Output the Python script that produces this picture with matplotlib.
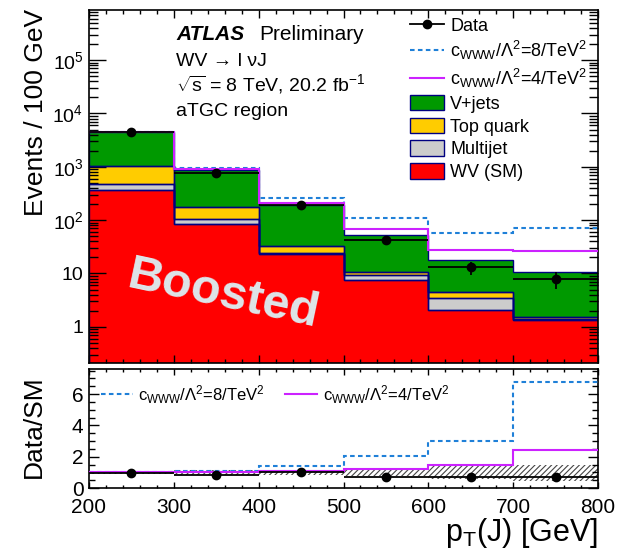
import matplotlib
matplotlib.use("Agg")
import matplotlib.pyplot as plt
import numpy as np
from matplotlib.lines import Line2D
from matplotlib.patches import Patch
from matplotlib.ticker import MultipleLocator, LogLocator, FuncFormatter, NullFormatter

plt.rcParams['font.family'] = ['Liberation Sans', 'DejaVu Sans']
plt.rcParams['mathtext.fontset'] = 'custom'
plt.rcParams['mathtext.rm'] = 'Liberation Sans'
plt.rcParams['mathtext.it'] = 'Liberation Sans:italic'
plt.rcParams['mathtext.bf'] = 'Liberation Sans:bold'
plt.rcParams['hatch.linewidth'] = 0.8

# binning in pT(J)
edges = [200, 300, 400, 500, 600, 700, 800]
centers = [250, 350, 450, 550, 650, 750]

# stacked backgrounds (per bin, not cumulative)
wv_sm = [370, 84, 23.5, 7.5, 2.1, 1.34]
multijet = [110, 20, 0.5, 1.8, 1.4, 0.04]
top_quark = [550, 69, 9, 1.4, 1.0, 0.16]
v_jets = [3500, 694, 162, 41.8, 13.3, 8.96]

# aTGC predictions (total)
atgc_8 = [4550, 958, 262, 109, 56.5, 72]
atgc_4 = [4530, 893, 207, 67, 27.7, 26.3]

data = [4420, 752, 191, 42.3, 13, 7.9]
data_err = [66, 27, 14, 6.5, 3.6, 2.8]

# ratio panel
ratio_data = [0.98, 0.85, 1.04, 0.72, 0.70, 0.72]
ratio_8 = [1.0, 1.09, 1.43, 2.02, 3.02, 6.8]
ratio_4 = [1.0, 1.02, 1.09, 1.2, 1.46, 2.42]
band_lo = [0.88, 0.86, 0.85, 0.75, 0.55, 0.42]
band_hi = [1.10, 1.12, 1.15, 1.22, 1.42, 1.46]

navy = '#000080'
c_green = '#009900'
c_yellow = '#ffcc00'
c_grey = '#cccccc'
c_red = '#ff0000'
c_blue = '#1f80d8'
c_mag = '#cc22ff'

W, H = 636, 552
fig = plt.figure(figsize=(W / 100, H / 100), dpi=100)
ax1 = fig.add_axes([89 / W, 1 - 363 / H, 509 / W, 353 / H])
ax2 = fig.add_axes([89 / W, 1 - 488 / H, 509 / W, 119 / H])

# stack
ymin = 0.21
bottom = np.full(6, ymin)
for vals, col in [(wv_sm, c_red), (multijet, c_grey), (top_quark, c_yellow), (v_jets, c_green)]:
    top = bottom + np.array(vals) if col != c_red else np.array(vals, dtype=float)
    ax1.stairs(top, edges, baseline=bottom, fill=True, facecolor=col, edgecolor='none', zorder=1)
    ax1.stairs(top, edges, baseline=bottom, fill=False, edgecolor=navy, lw=1.0, zorder=2)
    bottom = top

ax1.stairs(atgc_8, edges, baseline=None, color=c_blue, ls=(0, (2.2, 1.6)), lw=1.5, zorder=3)
ax1.stairs(atgc_4, edges, baseline=None, color=c_mag, lw=1.5, zorder=3)
ax1.errorbar(centers, data, xerr=50, yerr=data_err, fmt='o', color='black', ms=6,
             lw=1.3, capsize=0, zorder=5)

ax1.set_yscale('log')
ax1.set_xlim(200, 800)
ax1.set_ylim(ymin, 8.7e5)


def logfmt(v, pos):
    if v == 1:
        return '1'
    if v == 10:
        return '10'
    n = int(round(np.log10(v)))
    return r'$\mathregular{10^{%d}}$' % n


ax1.yaxis.set_major_locator(LogLocator(base=10, numticks=20))
ax1.yaxis.set_minor_locator(LogLocator(base=10, subs=np.arange(2, 10), numticks=20))
ax1.yaxis.set_major_formatter(FuncFormatter(logfmt))
ax1.yaxis.set_minor_formatter(NullFormatter())
ax1.xaxis.set_major_locator(MultipleLocator(100))
ax1.xaxis.set_minor_locator(MultipleLocator(20))
ax1.tick_params(axis='x', labelbottom=False)
ax1.tick_params(which='both', direction='in', top=True, right=True, width=1.0)
ax1.tick_params(axis='y', which='major', length=12, labelsize=14, pad=4)
ax1.tick_params(axis='y', which='minor', length=6.5)
ax1.tick_params(axis='x', which='major', length=5.5)
ax1.tick_params(axis='x', which='minor', length=3)

# legend
handles = [
    Line2D([], [], color='black', marker='o', ms=6, lw=1.3),
    Line2D([], [], color=c_blue, ls=(0, (2.2, 1.6)), lw=1.5),
    Line2D([], [], color=c_mag, lw=1.5),
    Patch(facecolor=c_green, edgecolor=navy),
    Patch(facecolor=c_yellow, edgecolor=navy),
    Patch(facecolor=c_grey, edgecolor=navy),
    Patch(facecolor=c_red, edgecolor=navy),
]
labels = ['Data',
          r'c$_\mathregular{WWW}$/$\Lambda^\mathregular{2}$=8/TeV$^\mathregular{2}$',
          r'c$_\mathregular{WWW}$/$\Lambda^\mathregular{2}$=4/TeV$^\mathregular{2}$',
          'V+jets', 'Top quark', 'Multijet', 'WV (SM)']
ax1.legend(handles, labels, loc='upper left', bbox_to_anchor=((406 - 89) / 509, 1 - 3 / 353),
           frameon=False, fontsize=13, handlelength=1.9, handleheight=0.95,
           handletextpad=0.35, labelspacing=0.26, borderpad=0.2, borderaxespad=0)

# text
fig.text(176 / W, 1 - 40.5 / H, 'ATLAS', fontsize=15, fontweight='bold', fontstyle='italic', va='baseline')
fig.text(259 / W, 1 - 40.5 / H, 'Preliminary', fontsize=15, va='baseline')
fig.text(176 / W, 1 - 66.5 / H, 'WV \u2192 l \u03bdJ', fontsize=14, va='baseline')
fig.text(176 / W, 1 - 90.5 / H, r'$\sqrt{\mathregular{s}}$ = 8 TeV, 20.2 fb$^\mathregular{-1}$', fontsize=14, va='baseline')
fig.text(176 / W, 1 - 116 / H, 'aTGC region', fontsize=14, va='baseline')
ax1.text(358, 3.9, 'Boosted', fontsize=35, fontweight='bold', color='#dde6ea',
         rotation=-12, ha='center', va='center', zorder=4)

fig.text(36 / W, 1 - 9 / H, 'Events / 100 GeV', fontsize=19, rotation=90, ha='center', va='top')

# ratio panel
for i in range(6):
    ax2.bar(edges[i], band_hi[i] - band_lo[i], width=100, bottom=band_lo[i], align='edge',
            fill=False, hatch='//////', edgecolor='#444444', lw=0, zorder=1)
ax2.stairs(ratio_8, edges, baseline=None, color=c_blue, ls=(0, (2.2, 1.6)), lw=1.5, zorder=3)
ax2.stairs(ratio_4, edges, baseline=None, color=c_mag, lw=1.5, zorder=3)
ax2.errorbar(centers, ratio_data, xerr=50, fmt='o', color='black', ms=6, lw=1.3,
             capsize=0, zorder=5)
ax2.set_xlim(200, 800)
ax2.set_ylim(0, 7.6)
ax2.yaxis.set_major_locator(MultipleLocator(2))
ax2.yaxis.set_minor_locator(MultipleLocator(0.5))
ax2.xaxis.set_major_locator(MultipleLocator(100))
ax2.xaxis.set_minor_locator(MultipleLocator(20))
ax2.tick_params(which='both', direction='in', top=True, right=True, width=1.0, labelsize=15)
ax2.tick_params(axis='y', which='major', length=7, pad=4)
ax2.tick_params(axis='y', which='minor', length=4)
ax2.tick_params(axis='x', which='major', length=4, pad=7)
ax2.tick_params(axis='x', which='minor', length=2.2)
ax2.legend(handles[1:3], labels[1:3], loc='upper left', bbox_to_anchor=(12 / 509, 1 - 14 / 119),
           ncol=2, frameon=False, fontsize=12, handlelength=1.9, handletextpad=0.35,
           columnspacing=1.2, borderpad=0, borderaxespad=0)
fig.text(34 / W, 1 - 427 / H, 'Data/SM', fontsize=19, rotation=90, ha='center', va='center')
fig.text(598 / W, 1 - 550 / H, r'p$_\mathregular{T}$(J) [GeV]', fontsize=22, ha='right', va='bottom')

for ax in (ax1, ax2):
    for s in ax.spines.values():
        s.set_linewidth(1.2)

fig.savefig('out.png', dpi=100)
